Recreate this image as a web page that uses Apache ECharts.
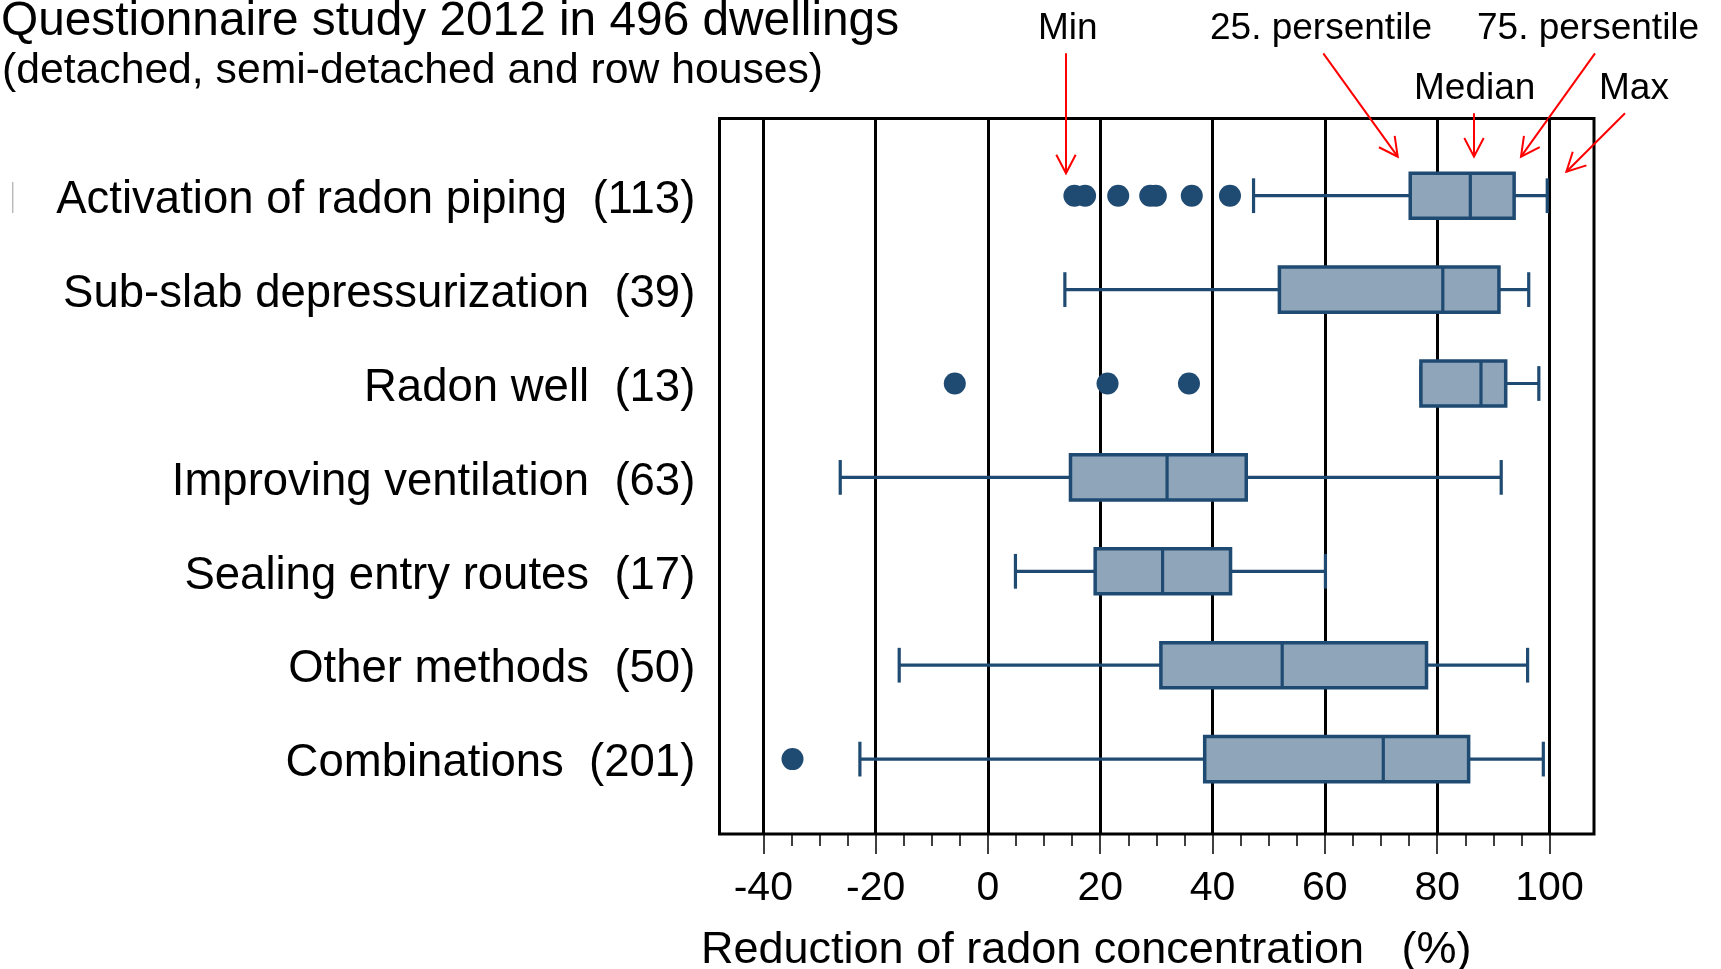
<!DOCTYPE html>
<html>
<head>
<meta charset="utf-8">
<title>Reduction of radon concentration</title>
<script src="https://cdn.jsdelivr.net/npm/echarts@6/dist/echarts.min.js"></script>
<style>
html, body { margin: 0; padding: 0; background: #fff; }
#main { width: 1721px; height: 969px; }
</style>
</head>
<body>
<div id="main"></div>
<script>
// data
var categories = ['Activation of radon piping', 'Sub-slab depressurization', 'Radon well',
	'Improving ventilation', 'Sealing entry routes', 'Other methods', 'Combinations'];
var counts = [113, 39, 13, 63, 17, 50, 201];
var minValues = [47.3, 13.7, 77.1, -26.3, 4.9, -15.8, -22.8];
var q1Values = [75.2, 51.9, 77.1, 14.7, 19.1, 30.8, 38.6];
var medianValues = [85.9, 81.0, 87.8, 31.9, 31.1, 52.4, 70.4];
var q3Values = [93.7, 91.0, 92.2, 46.0, 43.2, 78.1, 85.6];
var maxValues = [99.6, 96.3, 98.1, 91.4, 60.1, 96.1, 98.9];
var outliers = [
	[15.4, 17.3, 23.2, 28.9, 29.9, 36.3, 43.1],
	[],
	[-5.9, 21.3, 35.8],
	[],
	[],
	[],
	[-34.8]
];
var axisMin = -40, axisMax = 100, tickStep = 20;

var FONT = 'Liberation Sans, Arial, sans-serif';
var NAVY = '#1f4a72';
var RED = '#ff0000';

// rows for the custom box series: [row, min, q1, median, q3, max]
var boxData = [];
var outlierData = [];
for (var i = 0; i < categories.length; i++) {
	boxData.push([i, minValues[i], q1Values[i], medianValues[i], q3Values[i], maxValues[i]]);
	for (var j = 0; j < outliers[i].length; j++) {
		outlierData.push([outliers[i][j], i]);
	}
}

function renderBox(params, api) {
	var row = api.value(0);
	var pMin = api.coord([api.value(1), row]);
	var pQ1 = api.coord([api.value(2), row]);
	var pMed = api.coord([api.value(3), row]);
	var pQ3 = api.coord([api.value(4), row]);
	var pMax = api.coord([api.value(5), row]);
	var band = api.size([0, 1])[1];
	var boxH = band * 0.48;
	var capH = band * 0.37;
	var y = pMed[1];
	var st = { stroke: NAVY, lineWidth: 3.2 };
	return {
		type: 'group',
		children: [
			{ type: 'line', shape: { x1: pMin[0], y1: y, x2: pQ1[0], y2: y }, style: st },
			{ type: 'line', shape: { x1: pQ3[0], y1: y, x2: pMax[0], y2: y }, style: st },
			{ type: 'line', shape: { x1: pMin[0], y1: y - capH / 2, x2: pMin[0], y2: y + capH / 2 }, style: st },
			{ type: 'line', shape: { x1: pMax[0], y1: y - capH / 2, x2: pMax[0], y2: y + capH / 2 }, style: st },
			{ type: 'rect', shape: { x: pQ1[0], y: y - boxH / 2, width: pQ3[0] - pQ1[0], height: boxH },
				style: { fill: '#8fa5ba', stroke: NAVY, lineWidth: 3.5 } },
			{ type: 'line', shape: { x1: pMed[0], y1: y - boxH / 2, x2: pMed[0], y2: y + boxH / 2 }, style: st }
		]
	};
}

// red annotation arrow with an open head
function arrow(x1, y1, x2, y2) {
	var ang = Math.atan2(y2 - y1, x2 - x1);
	var len = 21, spread = 0.48;
	var a = [x2 - len * Math.cos(ang - spread), y2 - len * Math.sin(ang - spread)];
	var b = [x2 - len * Math.cos(ang + spread), y2 - len * Math.sin(ang + spread)];
	return {
		type: 'group',
		children: [
			{ type: 'line', shape: { x1: x1, y1: y1, x2: x2, y2: y2 }, style: { stroke: RED, lineWidth: 2 } },
			{ type: 'polyline', shape: { points: [a, [x2, y2], b] }, style: { stroke: RED, lineWidth: 2, fill: null } }
		]
	};
}

function text(str, left, top, size) {
	return {
		text: str, left: left, top: top, padding: 0,
		textStyle: { fontFamily: FONT, fontSize: size, fontWeight: 'normal', color: '#000' }
	};
}

var option = {
	backgroundColor: '#fff',
	animation: false,
	title: [
		text('Questionnaire study 2012 in 496 dwellings', 1, -2.5, 47.8),
		text('(detached, semi-detached and row houses)', 2, 50, 42.7),
		text('Reduction of radon concentration   (%)', 701, 928, 45),
		text('Min', 1038, 10, 37),
		text('25. persentile', 1210, 10, 37),
		text('75. persentile', 1477, 10, 37),
		text('Median', 1414, 70, 37),
		text('Max', 1599, 70, 37)
	],
	grid: [
		// outer frame
		{ left: 719.5, top: 118.5, width: 874.5, height: 715.5, show: true,
			borderColor: '#000', borderWidth: 3, backgroundColor: 'transparent', outerBoundsMode: 'none' },
		// tick axis and vertical grid lines
		{ left: 763.3, top: 118.5, width: 786.2, height: 715.5, outerBoundsMode: 'none' },
		// boxes
		{ left: 763.3, top: 148.75, width: 786.2, height: 657.3, outerBoundsMode: 'none' },
		// row labels, set a little lower than the boxes as in the original
		{ left: 763.3, top: 153.5, width: 786.2, height: 657.3, outerBoundsMode: 'none' }
	],
	xAxis: [
		{ gridIndex: 0, type: 'value', min: -48, max: 108, show: false },
		{
			gridIndex: 1, type: 'value', min: axisMin, max: axisMax, interval: tickStep,
			axisLine: { show: false },
			axisTick: { show: true, length: 20, lineStyle: { color: '#000', width: 1.5 } },
			minorTick: { show: true, splitNumber: 4, length: 12, lineStyle: { color: '#000', width: 1.5 } },
			splitLine: { show: true, lineStyle: { color: '#000', width: 3 } },
			minorSplitLine: { show: false },
			axisLabel: { fontFamily: FONT, fontSize: 41, color: '#000', margin: 34.5 }
		},
		{ gridIndex: 2, type: 'value', min: axisMin, max: axisMax, show: false },
		{ gridIndex: 3, type: 'value', min: axisMin, max: axisMax, show: false }
	],
	yAxis: [
		{ gridIndex: 0, type: 'value', show: false },
		{ gridIndex: 1, type: 'value', show: false },
		{ gridIndex: 2, type: 'category', inverse: true, data: categories, show: false },
		{
			gridIndex: 3, type: 'category', inverse: true, data: categories,
			axisLine: { show: false },
			axisTick: { show: false },
			splitLine: { show: false },
			axisLabel: {
				fontFamily: FONT, fontSize: 45.5, color: '#000', margin: 68,
				formatter: function (v, idx) { return v + '  (' + counts[idx] + ')'; }
			}
		}
	],
	series: [
		{
			type: 'custom',
			xAxisIndex: 2, yAxisIndex: 2,
			renderItem: renderBox,
			encode: { x: [1, 2, 3, 4, 5], y: 0 },
			data: boxData,
			z: 3
		},
		{
			type: 'scatter',
			xAxisIndex: 2, yAxisIndex: 2,
			symbol: 'circle', symbolSize: 22,
			itemStyle: { color: NAVY, opacity: 1 },
			data: outlierData,
			z: 4
		}
	],
	graphic: [
		arrow(1066, 53.3, 1066, 173.3),
		arrow(1323.3, 53.3, 1397.7, 156.7),
		arrow(1474, 113.3, 1474, 156.7),
		arrow(1595, 53.3, 1521, 156.7),
		arrow(1625, 113.3, 1566.4, 171.7),
		// faint mark on the left edge
		{ type: 'line', shape: { x1: 12.7, y1: 182, x2: 12.7, y2: 213 }, style: { stroke: '#bbbbbb', lineWidth: 1.5 } }
	]
};

var myChart = echarts.init(document.getElementById('main'));
myChart.setOption(option);
window.onresize = myChart.resize;
</script>
</body>
</html>
